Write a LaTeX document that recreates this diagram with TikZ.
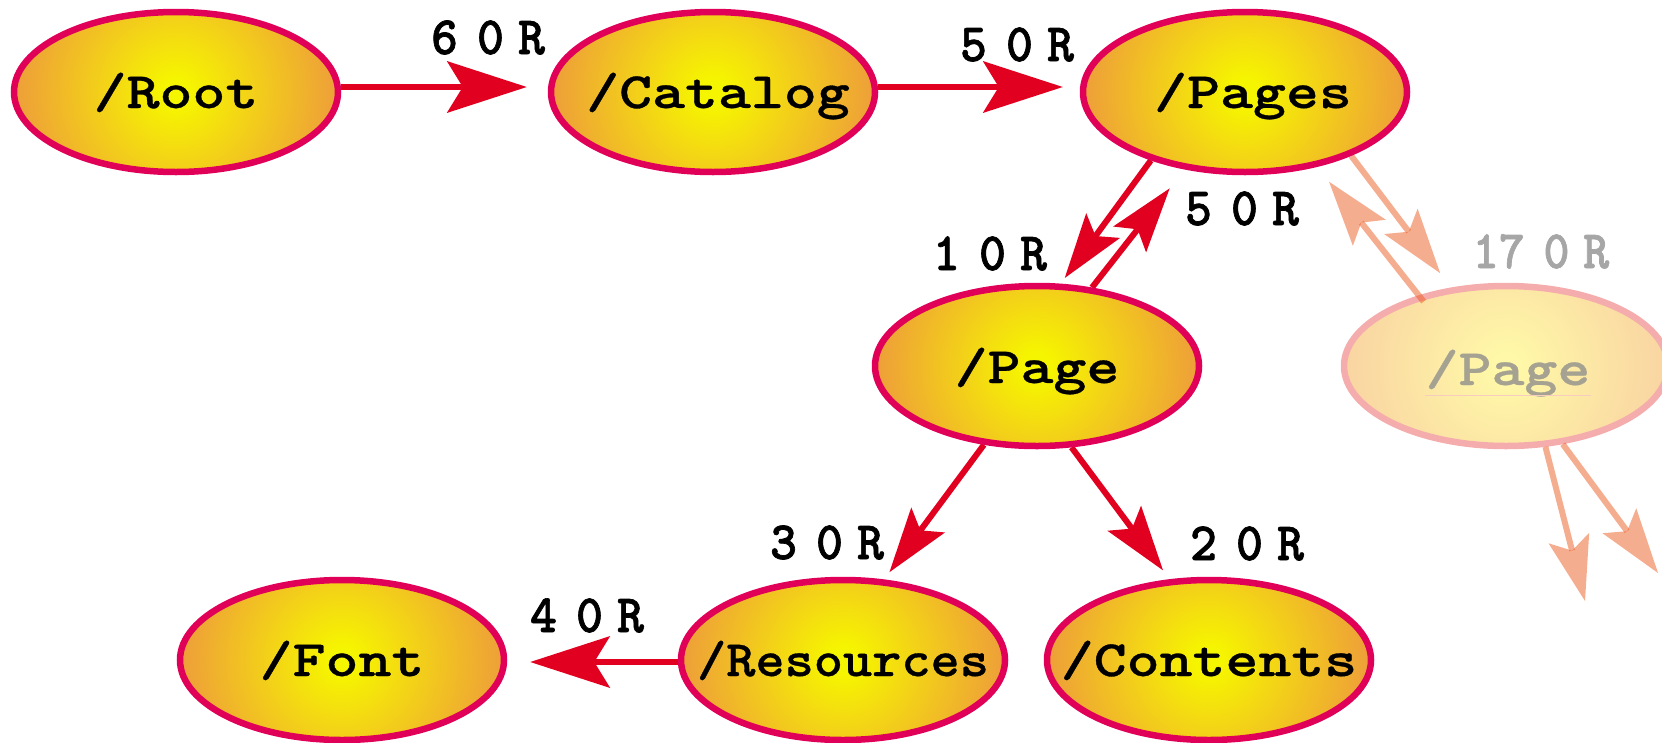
\documentclass[tikz,border=0pt]{standalone}
\usepackage{graphicx}
\usepackage{fontspec}
\newfontfamily\eggfam{lmmonolt10-bold.otf}[FakeBold=0.6]
\newfontfamily\labfam{lmmonolt10-bold.otf}[FakeBold=1.3]
\usetikzlibrary{shapes.geometric,arrows.meta,backgrounds}
\definecolor{eggborder}{RGB}{224,0,88}
\definecolor{arrowred}{RGB}{226,0,32}
\definecolor{eggin}{RGB}{246,245,0}
\definecolor{eggout}{RGB}{238,158,58}
\definecolor{fadein}{RGB}{255,248,168}
\definecolor{fadeout}{RGB}{249,212,162}
\definecolor{fadeborder}{RGB}{245,172,172}
\definecolor{fadetext}{RGB}{165,162,145}
\definecolor{fadelabel}{RGB}{166,166,166}
\definecolor{fadecol}{RGB}{236,92,34}
\definecolor{fadeline}{RGB}{246,205,190}
\pgfdeclareradialshading{eggsh}{\pgfpoint{0bp}{0bp}}{color(0bp)=(eggin); color(2bp)=(eggin); color(25bp)=(eggout); color(50bp)=(eggout)}
\pgfdeclareradialshading{fadesh}{\pgfpoint{0bp}{0bp}}{color(0bp)=(fadein); color(2bp)=(fadein); color(25bp)=(fadeout); color(50bp)=(fadeout)}
\newcommand\reftext[3]{#1\hspace{20.1pt}#2\hspace{14.8pt}#3}
\tikzset{
  egg/.style={ellipse, draw=eggborder, line width=6.5pt, minimum width=324pt, minimum height=160pt, inner sep=0pt,
    path picture={\shade[shading=eggsh] (path picture bounding box.center) circle (162pt);}},
  fadeegg/.style={egg, draw=fadeborder,
    path picture={\shade[shading=fadesh] (path picture bounding box.center) circle (162pt);}},
  eggtext/.style={anchor=base, inner sep=0pt, font={\eggfam\fontsize{51pt}{51pt}\selectfont}},
  reflabel/.style={anchor=base, inner sep=0pt, font={\labfam\fontsize{54pt}{54pt}\selectfont}},
  bigarrow/.style={draw=arrowred, line width=6.5pt, -{Stealth[length=80pt, width=52pt, inset=16pt, line width=0pt]}},
  diagarrow/.style={draw=arrowred, line width=6pt, -{Stealth[length=65pt, width=42pt, inset=13pt, line width=0pt]}},
  fadearrowst/.style={draw=fadecol, line width=6pt, opacity=0.5, -{Stealth[length=65pt, width=42pt, inset=13pt, line width=0pt]}}
}
\begin{document}
\begin{tikzpicture}[x=1pt,y=-1pt]
\useasboundingbox (0,0) rectangle (1662,742);
% ellipses
\node[egg] (root) at (176,92) {};
\node[egg] (catalog) at (713,92) {};
\node[egg] (pages) at (1245,92) {};
\node[egg] (page) at (1037,366) {};
\node[fadeegg] (page2) at (1506,366) {};
\node[egg] (font) at (342,660) {};
\node[egg] (resources) at (843,660) {};
\node[egg] (contents) at (1209,660) {};
% ellipse texts
\node[eggtext] (rootT) at ([yshift=-16pt]root.center) {\scalebox{1.23}[1]{/Root}};
\node[eggtext] (catalogT) at ([xshift=5pt,yshift=-16pt]catalog.center) {\scalebox{1.23}[1]{/Catalog}};
\node[eggtext] (pagesT) at ([xshift=8pt,yshift=-16pt]pages.center) {\scalebox{1.23}[1]{/Pages}};
\node[eggtext] (pageT) at ([yshift=-17pt]page.center) {\scalebox{1.23}[1]{/Page}};
\node[eggtext, text=fadetext] (page2T) at ([xshift=2pt,yshift=-19pt]page2.center) {\scalebox{1.23}[1]{/Page}};
\draw[fadeline, line width=1pt] ([yshift=-10pt]page2T.base west) -- ([yshift=-10pt]page2T.base east);
\node[eggtext] (fontT) at ([yshift=-16pt]font.center) {\scalebox{1.23}[1]{/Font}};
\node[eggtext] (resourcesT) at ([yshift=-16pt]resources.center) {\scalebox{1.09}[1]{/Resources}};
\node[eggtext] (contentsT) at ([yshift=-16pt]contents.center) {\scalebox{1.23}[1]{/Contents}};
% reference labels
\node[reflabel] (l60) at (488,54) {\scalebox{0.95}[1]{\reftext{6}{0}{R}}};
\node[reflabel] (l50a) at (1017,61) {\scalebox{0.95}[1]{\reftext{5}{0}{R}}};
\node[reflabel] (l10) at (990,270) {\scalebox{0.95}[1]{\reftext{1}{0}{R}}};
\node[reflabel] (l50b) at (1242,225) {\scalebox{0.95}[1]{\reftext{5}{0}{R}}};
\node[reflabel, text=fadelabel] (l17) at (1541,268) {\scalebox{0.92}[1]{\reftext{17}{0}{R}}};
\node[reflabel] (l30) at (827,559) {\scalebox{0.95}[1]{\reftext{3}{0}{R}}};
\node[reflabel] (l20) at (1247,560) {\scalebox{0.95}[1]{\reftext{2}{0}{R}}};
\node[reflabel] (l40) at (587,632) {\scalebox{0.95}[1]{\reftext{4}{0}{R}}};
% connectors
\begin{pgfonlayer}{background}
\draw[bigarrow, shorten >=21pt] ([yshift=5pt]root.east) -- ([yshift=5pt]catalog.west);
\draw[bigarrow, shorten >=17pt] ([yshift=5pt]catalog.east) -- ([yshift=5pt]pages.west);
\draw[bigarrow, shorten >=23pt] ([yshift=-2pt]resources.west) -- ([yshift=-2pt]font.east);
\draw[diagarrow, shorten >=7pt] (pages.216) -- (page.74);
\draw[diagarrow, shorten >=24pt] (page.55) -- (pages.232);
\draw[diagarrow, shorten >=9pt] (page.236) -- (resources.63);
\draw[diagarrow, shorten >=11pt] (page.293) -- (contents.116);
\draw[fadearrowst, shorten >=18pt] (pages.329) -- (page2.125);
\end{pgfonlayer}
\draw[fadearrowst, shorten <=-8pt, shorten >=19pt] (page2.141) -- (pages.314);
\coordinate (free1) at (1585,601);
\coordinate (free2) at (1658,573);
\draw[fadearrowst] (page2.296) -- (free1);
\draw[fadearrowst] (page2.306) -- (free2);
\end{tikzpicture}
\end{document}
